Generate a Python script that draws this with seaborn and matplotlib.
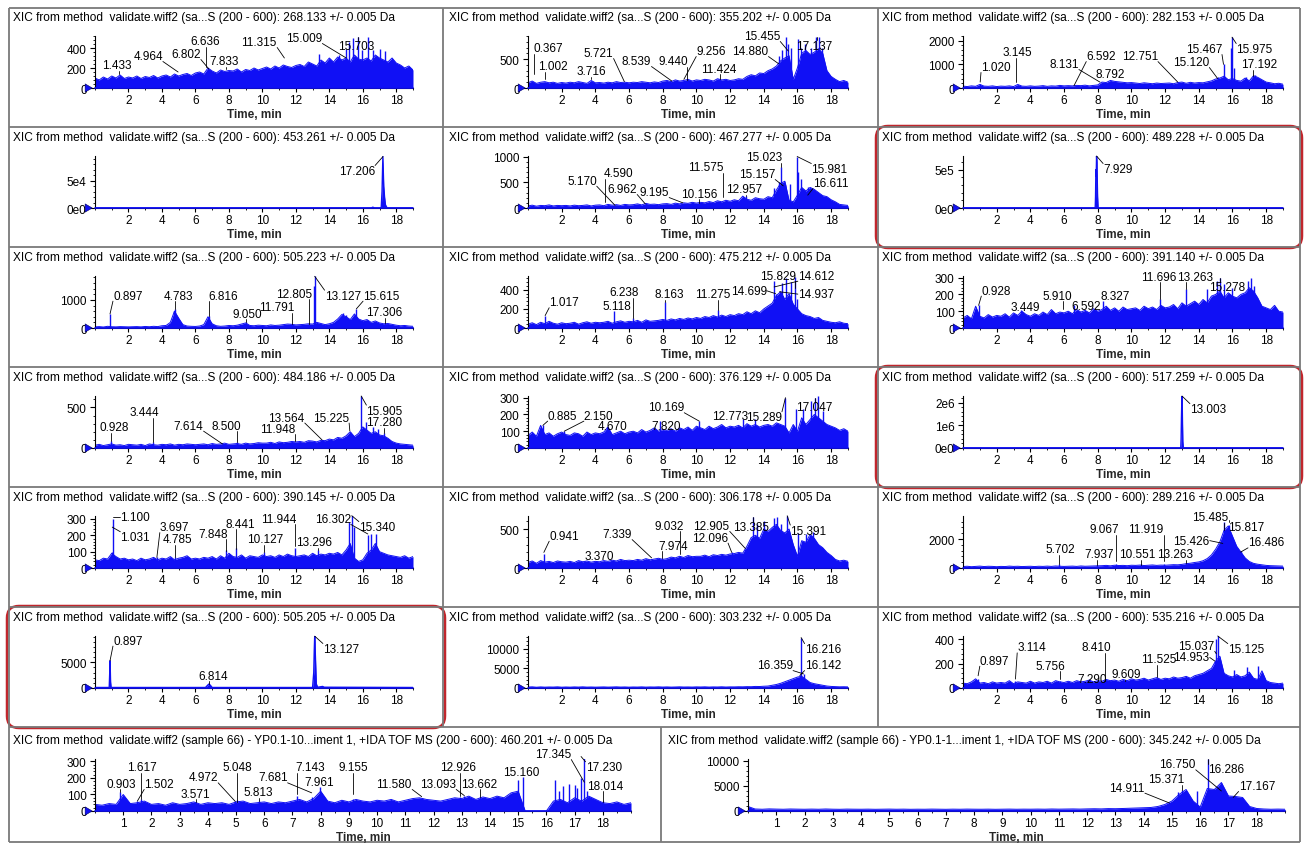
import numpy as np
import matplotlib
matplotlib.use("Agg")
import matplotlib.pyplot as plt
import seaborn as sns
from matplotlib.patches import FancyBboxPatch
from matplotlib.ticker import FixedLocator, MultipleLocator, FuncFormatter

sns.set_theme(style="ticks")
plt.rcParams["font.family"] = ["Liberation Sans", "DejaVu Sans"]
plt.rcParams.update({
    "font.size": 8.5,
    "text.color": "black",
    "axes.edgecolor": "black",
    "axes.linewidth": 0.8,
    "xtick.color": "black",
    "ytick.color": "black",
    "xtick.labelsize": 8.5,
    "ytick.labelsize": 8.5,
    "xtick.major.size": 3,
    "xtick.minor.size": 1.5,
    "ytick.major.size": 3.5,
    "ytick.minor.size": 1.5,
    "xtick.major.width": 0.8,
    "ytick.major.width": 0.8,
    "xtick.minor.width": 0.6,
    "ytick.minor.width": 0.6,
    "xtick.major.pad": 1.5,
    "ytick.major.pad": 2.5,
})

BLUE = "#1010f5"
W, H = 1304, 845

# noise envelopes are sampled every 0.25 min from 0 to 19 min
T_GRID = np.arange(0, 19.001, 0.25)

# ---------------- data ----------------
# 1) 268.133
p1_hi = [100, 80, 110, 90, 120, 100, 130, 95, 110,
         100, 120, 95, 115, 105, 125, 100, 120,
         130, 110, 140, 120, 135, 145, 125, 150,
         160, 140, 200, 170, 150, 180, 165, 175,
         170, 190, 160, 185, 175, 200, 180, 195,
         210, 190, 220, 200, 230, 215, 205, 225,
         235, 215, 260, 240, 220, 280, 250, 300,
         260, 310, 280, 300, 260, 330, 290, 280,
         300, 270, 330, 300, 280, 260, 300, 250,
         230, 200, 220, 180]
p1_spk_t = [13.4, 14.6, 15.0, 15.15, 15.4, 15.7, 15.95, 16.3, 16.6, 16.85, 17.05, 17.3]
p1_spk_y = [340, 330, 390, 460, 500, 510, 380, 510, 380, 300, 390, 370]
p1_lab_t = [1.433, 4.964, 6.636, 6.802, 7.833, 11.315, 15.009, 15.703]
p1_lab_y = [140, 160, 210, 190, 190, 300, 300, 510]
p1_lab_pos = [(1.3, 230), (3.17, 320), (6.57, 470), (5.44, 340), (7.7, 270),
              (9.8, 460), (12.5, 500), (15.6, 420)]

# 2) 355.202
p2_hi = [90, 120, 80, 100, 110, 90, 100, 80, 95,
         85, 100, 90, 110, 95, 80, 130, 90,
         95, 85, 100, 90, 110, 95, 100, 90,
         100, 95, 110, 100, 90, 105, 95, 120,
         130, 110, 140, 120, 130, 150, 120, 140,
         130, 150, 140, 120, 160, 140, 150, 130,
         140, 160, 150, 200, 230, 210, 260, 250,
         300, 330, 380, 470, 520, 560, 150, 350,
         600, 650, 580, 620, 680, 600, 300, 200,
         150, 110, 130, 100]
p2_spk_t = [14.9, 15.1, 15.3, 15.45, 15.6, 16.05, 16.2, 16.45, 16.8, 17.1, 17.3, 17.45]
p2_spk_y = [560, 650, 880, 760, 700, 850, 700, 760, 700, 880, 890, 700]
p2_lab_t = [0.367, 1.002, 3.716, 5.721, 8.539, 9.440, 9.256, 11.424, 14.880, 15.455, 17.137]
p2_lab_y = [240, 160, 150, 110, 120, 140, 150, 160, 420, 640, 880]
p2_lab_pos = [(1.19, 692), (1.48, 380), (3.75, 294), (4.2, 605), (6.45, 467), (8.6, 467),
              (10.87, 640), (11.3, 329), (13.2, 640), (13.9, 900), (17.0, 727)]

# 3) 282.153
p3_hi = [80, 60, 90, 70, 150, 80, 70, 90, 60,
         80, 70, 90, 60, 150, 80, 70, 90,
         70, 80, 100, 70, 90, 80, 110, 90,
         100, 90, 110, 100, 120, 90, 110, 130,
         250, 230, 320, 280, 260, 240, 220, 230,
         210, 190, 220, 200, 180, 210, 190, 200,
         210, 180, 230, 250, 200, 240, 210, 230,
         220, 260, 300, 380, 420, 500, 350, 400,
         320, 290, 420, 300, 520, 450, 350, 250,
         220, 180, 200, 160]
p3_spk_t = [1.02, 15.12, 15.47, 15.9, 15.98, 16.1, 16.8, 17.19, 17.35]
p3_spk_y = [180, 450, 1000, 1700, 2150, 850, 450, 520, 560]
p3_lab_t = [1.020, 3.145, 8.131, 6.592, 8.792, 12.751, 15.120, 15.467, 15.975, 17.192]
p3_lab_y = [250, 250, 250, 100, 380, 250, 400, 1000, 2150, 520]
p3_lab_pos = [(1.95, 890), (3.2, 1520), (6.0, 1015), (8.2, 1350), (8.75, 590), (10.5, 1350),
              (13.55, 1100), (14.3, 1650), (17.3, 1650), (17.6, 1015)]

# 4) 453.261
p4_t = [0, 16.5, 16.6, 16.7, 17.1, 17.15, 17.2, 17.25, 17.3, 17.35, 17.45, 19]
p4_y = [0, 0, 1500, 0, 0, 30000, 94000, 40000, 20000, 6000, 0, 0]
p4_lab_t = [17.206]
p4_lab_y = [94000]
p4_lab_pos = [(15.65, 67600)]

# 5) 467.277
p5_hi = [40, 55, 35, 50, 45, 60, 40, 50, 45,
         50, 40, 55, 45, 50, 60, 40, 55,
         60, 45, 70, 55, 65, 50, 70, 60,
         65, 80, 60, 90, 70, 75, 65, 80,
         85, 70, 95, 80, 100, 90, 110, 95,
         110, 100, 125, 105, 140, 120, 150, 130,
         160, 140, 230, 170, 150, 200, 180, 170,
         220, 200, 350, 480, 520, 150, 120, 250,
         400, 330, 400, 360, 300, 240, 220, 160,
         120, 70, 60, 50]
p5_spk_t = [12.96, 14.6, 14.9, 15.02, 15.16, 15.25, 15.55, 15.98, 16.05, 16.2, 16.61]
p5_spk_y = [240, 380, 500, 790, 430, 470, 470, 1000, 700, 560, 400]
p5_lab_t = [5.170, 4.590, 6.962, 9.195, 10.156, 11.575, 12.957, 15.023, 15.157, 15.981, 16.611]
p5_lab_y = [50, 120, 80, 100, 100, 215, 240, 790, 430, 1000, 250]
p5_lab_pos = [(3.2, 530), (5.4, 673), (5.6, 369), (7.5, 310), (10.15, 272), (10.55, 795),
              (12.85, 369), (14.0, 990), (13.6, 660), (17.9, 757), (18.0, 485)]

# 6) 489.228
p6_t = [0, 7.85, 7.87, 7.89, 7.91, 7.93, 7.95, 7.97, 7.99, 8.02, 19]
p6_y = [0, 0, 150000, 500000, 420000, 680000, 600000, 380000, 150000, 0, 0]
p6_lab_t = [7.929]
p6_lab_y = [680000]
p6_lab_pos = [(9.2, 510000)]

# 7) 505.223
p7_hi = [40, 50, 35, 60, 45, 40, 50, 45, 40,
         45, 50, 40, 55, 45, 60, 50, 80,
         90, 200, 600, 350, 120, 70, 60, 55,
         70, 120, 400, 150, 80, 60, 70, 90,
         80, 100, 140, 180, 90, 80, 100, 90,
         80, 110, 90, 100, 120, 140, 130, 110,
         120, 130, 150, 140, 200, 160, 120, 150,
         200, 320, 480, 400, 300, 500, 320, 260,
         300, 200, 250, 180, 150, 160, 130, 100,
         80, 90, 70, 60]
p7_spk_t = [0.897, 4.72, 4.783, 6.816, 9.05, 11.791, 13.08, 13.127, 14.8, 15.0, 15.615, 17.306]
p7_spk_y = [500, 600, 680, 440, 200, 150, 1500, 1840, 520, 480, 680, 170]
p7_lab_t = [0.897, 4.783, 6.816, 9.050, 11.791, 12.805, 13.127, 15.615, 17.306]
p7_lab_y = [500, 680, 440, 200, 150, 150, 1840, 680, 170]
p7_lab_pos = [(1.96, 1150), (5.0, 1150), (7.66, 1150), (9.13, 500), (10.85, 735),
              (11.9, 1210), (14.8, 1150), (17.1, 1150), (17.3, 560)]

# 8) 475.212
p8_hi = [40, 55, 35, 60, 45, 70, 50, 40, 55,
         45, 50, 60, 40, 55, 65, 50, 60,
         55, 60, 70, 50, 65, 75, 60, 70,
         65, 80, 60, 85, 70, 75, 80, 90,
         80, 95, 85, 100, 90, 105, 95, 110,
         100, 120, 110, 130, 115, 135, 120, 140,
         130, 150, 140, 170, 150, 180, 160, 200,
         230, 260, 340, 380, 300, 360, 250, 200,
         150, 130, 120, 100, 110, 80, 70, 60,
         55, 65, 50, 45]
p8_spk_t = [1.017, 5.118, 6.238, 8.163, 11.275, 14.2, 14.612, 14.699, 14.937, 15.1, 15.3, 15.6, 15.829, 16.0]
p8_spk_y = [130, 180, 100, 270, 190, 200, 495, 360, 380, 470, 520, 480, 530, 300]
p8_lab_t = [1.017, 6.238, 5.118, 8.163, 11.275, 15.829, 14.612, 14.699, 14.937]
p8_lab_y = [130, 100, 180, 270, 190, 420, 430, 360, 380]
p8_lab_pos = [(2.14, 270), (5.7, 375), (5.3, 235), (8.4, 355), (10.95, 355),
              (14.85, 548), (17.1, 548), (13.1, 390), (17.1, 355)]

# 9) 391.140
p9_hi = [60, 75, 55, 130, 70, 60, 80, 65, 75,
         70, 85, 65, 90, 75, 100, 80, 70,
         85, 75, 95, 80, 110, 85, 95, 90,
         100, 85, 110, 95, 105, 90, 115, 100,
         110, 130, 105, 120, 100, 125, 110, 115,
         120, 105, 130, 115, 125, 110, 135, 120,
         125, 140, 115, 150, 130, 145, 160, 140,
         170, 150, 190, 200, 220, 180, 210, 190,
         180, 200, 210, 240, 220, 180, 130, 120,
         110, 135, 100, 95]
p9_spk_t = [0.928, 3.45, 6.592, 8.327, 11.696, 13.263, 14.5, 15.1, 15.278, 15.5, 16.0, 16.9, 17.1, 17.3]
p9_spk_y = [135, 110, 140, 160, 175, 230, 230, 280, 300, 260, 240, 280, 300, 250]
p9_lab_t = [0.928, 3.449, 5.910, 6.592, 8.327, 11.696, 13.263, 15.278]
p9_lab_y = [135, 110, 115, 140, 160, 175, 230, 300]
p9_lab_pos = [(1.97, 223), (3.7, 123), (5.58, 193), (7.3, 133), (9.03, 193),
              (11.6, 306), (13.8, 306), (15.7, 243)]

# 10) 484.186
p10_hi = [35, 45, 30, 40, 50, 35, 40, 30, 45,
          40, 35, 45, 30, 50, 40, 35, 45,
          40, 50, 35, 45, 40, 50, 45, 40,
          45, 50, 40, 55, 45, 50, 60, 45,
          50, 55, 45, 60, 50, 55, 65, 60,
          60, 70, 55, 75, 65, 70, 80, 75,
          80, 70, 90, 85, 75, 95, 90, 110,
          100, 130, 120, 150, 200, 140, 180, 260,
          220, 180, 200, 160, 150, 120, 80, 60,
          50, 45, 40, 35]
p10_spk_t = [0.928, 3.444, 8.5, 13.564, 15.225, 15.905, 16.2, 16.6, 16.9, 17.28]
p10_spk_y = [90, 70, 70, 100, 200, 640, 320, 260, 240, 190]
p10_lab_t = [3.444, 0.928, 7.614, 8.500, 11.948, 13.564, 15.225, 15.905, 17.280]
p10_lab_y = [70, 90, 50, 70, 90, 100, 210, 640, 190]
p10_lab_pos = [(2.95, 440), (1.13, 255), (5.6, 275), (7.85, 275), (10.9, 235),
               (11.45, 375), (14.1, 375), (17.3, 460), (17.3, 315)]

# 11) 376.129
p11_hi = [75, 95, 70, 135, 80, 90, 70, 85, 95,
          80, 75, 90, 85, 70, 95, 80, 90,
          85, 95, 125, 80, 90, 100, 85, 95,
          100, 90, 110, 95, 105, 120, 100, 110,
          105, 115, 100, 120, 110, 125, 105, 130,
          120, 110, 130, 115, 125, 140, 120, 130,
          125, 135, 120, 145, 130, 140, 125, 135,
          140, 130, 150, 140, 130, 90, 140, 100,
          180, 140, 170, 200, 180, 160, 140, 130,
          120, 105, 115, 100]
p11_spk_t = [0.885, 2.15, 4.67, 7.82, 10.169, 12.773, 13.5, 15.289, 15.9, 16.3, 16.8, 17.047, 17.2, 17.5]
p11_spk_y = [135, 100, 125, 160, 160, 175, 170, 300, 230, 230, 280, 300, 310, 220]
p11_lab_t = [0.885, 2.150, 4.670, 10.169, 7.820, 12.773, 15.289, 17.047]
p11_lab_y = [135, 100, 125, 160, 160, 175, 300, 300]
p11_lab_pos = [(2.05, 193), (4.2, 193), (5.05, 133), (8.2, 243), (8.2, 133),
               (12.0, 193), (14.0, 183), (17.0, 243)]

# 12) 517.259
p12_t = [0, 12.93, 12.95, 12.97, 12.99, 13.01, 13.03, 13.05, 13.08, 19]
p12_y = [0, 0, 400000, 1300000, 2000000, 2300000, 1200000, 300000, 0, 0]
p12_lab_t = [13.003]
p12_lab_y = [2300000]
p12_lab_pos = [(14.55, 1720000)]

# 13) 390.145
p13_hi = [50, 45, 60, 55, 90, 70, 55, 60, 50,
          55, 45, 60, 50, 55, 65, 50, 60,
          55, 70, 50, 60, 65, 75, 55, 60,
          55, 65, 60, 70, 55, 75, 60, 90,
          70, 65, 80, 60, 75, 70, 65, 80,
          70, 75, 65, 80, 70, 85, 75, 70,
          75, 80, 70, 90, 75, 85, 80, 90,
          85, 95, 80, 110, 150, 60, 40, 50,
          90, 110, 150, 100, 90, 80, 75, 70,
          65, 75, 60, 70]
p13_spk_t = [1.031, 1.1, 3.697, 4.785, 7.848, 8.441, 10.127, 11.944, 13.296, 15.15, 15.34, 15.5, 16.302, 16.5, 16.8]
p13_spk_y = [100, 300, 70, 70, 110, 120, 100, 120, 110, 280, 330, 250, 200, 210, 210]
p13_lab_t = [1.100, 1.031, 3.697, 4.785, 7.848, 8.441, 10.127, 11.944, 13.296, 16.302, 15.340]
p13_lab_y = [310, 250, 65, 70, 106, 116, 100, 136, 110, 208, 320]
p13_lab_pos = [(2.4, 310), (2.4, 188), (4.76, 250), (4.9, 177), (7.07, 208), (8.7, 270),
               (10.16, 177), (11.0, 300), (13.1, 157), (14.2, 300), (16.85, 250)]

# 14) 306.178
p14_hi = [70, 90, 60, 95, 75, 85, 70, 90, 80,
          75, 85, 70, 95, 80, 90, 75, 85,
          80, 95, 85, 100, 90, 110, 95, 100,
          95, 110, 100, 120, 105, 115, 125, 110,
          120, 140, 130, 150, 135, 160, 145, 150,
          150, 165, 145, 170, 160, 175, 165, 180,
          185, 200, 190, 280, 390, 420, 380, 500,
          470, 520, 560, 480, 450, 500, 300, 150,
          350, 330, 430, 380, 300, 260, 200, 160,
          110, 90, 100, 85]
p14_spk_t = [0.941, 3.37, 7.339, 7.974, 9.032, 12.096, 12.905, 13.385, 13.6, 14.0, 14.6, 14.8, 15.0, 15.391, 16.05, 16.5, 16.9]
p14_spk_y = [180, 90, 120, 130, 160, 200, 250, 650, 560, 600, 640, 660, 560, 670, 450, 440, 460]
p14_lab_t = [0.941, 3.370, 7.339, 7.974, 9.032, 12.905, 12.096, 13.385, 15.391]
p14_lab_y = [200, 90, 130, 130, 180, 250, 200, 650, 670]
p14_lab_pos = [(2.14, 414), (4.24, 158), (5.3, 435), (8.6, 286), (8.4, 540),
               (10.9, 540), (10.8, 390), (13.25, 520), (16.65, 480)]

# 15) 289.216
p15_hi = [100, 120, 90, 110, 130, 100, 120, 110, 90,
          110, 100, 130, 110, 120, 100, 110, 120,
          100, 120, 110, 130, 110, 140, 120, 110,
          120, 130, 110, 140, 120, 130, 140, 150,
          160, 180, 150, 190, 170, 180, 160, 190,
          180, 200, 170, 190, 210, 180, 200, 190,
          210, 230, 220, 250, 300, 330, 380, 420,
          500, 650, 900, 1300, 1800, 2600, 2900, 2200,
          1500, 1100, 700, 450, 320, 260, 220, 180,
          160, 150, 140, 130]
p15_spk_t = [5.702, 7.937, 9.067, 10.551, 11.919, 13.263, 15.426, 15.485, 15.817, 16.486]
p15_spk_y = [250, 200, 250, 250, 250, 350, 1700, 3150, 3000, 1200]
p15_lab_t = [5.702, 9.067, 11.919, 7.937, 10.551, 13.263, 15.426, 15.485, 15.817, 16.486]
p15_lab_y = [275, 500, 500, 200, 200, 350, 1700, 2600, 3300, 1100]
p15_lab_pos = [(5.77, 1310), (8.4, 2690), (10.86, 2690), (8.1, 966), (10.36, 966),
               (12.6, 966), (13.57, 1890), (14.66, 3500), (16.83, 2800), (18.0, 1770)]

# 16) 505.205
p16_t = [0, 0.85, 0.88, 0.9, 0.93, 0.96, 6.6, 6.75, 6.814, 6.9, 7.0,
         13.0, 13.07, 13.1, 13.127, 13.17, 13.22, 13.3, 13.6, 13.7, 19]
p16_y = [100, 100, 3000, 5300, 1200, 100, 100, 600, 780, 500, 100,
         100, 3000, 7300, 10100, 6000, 800, 150, 300, 150, 100]
p16_lab_t = [0.897, 6.814, 13.127]
p16_lab_y = [5300, 780, 10100]
p16_lab_pos = [(1.96, 9230), (7.07, 2400), (14.7, 7600)]

# 17) 303.232
p17_hi = [250, 300, 200, 280, 220, 260, 240, 300, 210,
          260, 220, 280, 240, 300, 230, 260, 220,
          250, 280, 230, 260, 300, 240, 270, 220,
          260, 240, 290, 230, 270, 250, 300, 240,
          280, 230, 260, 300, 250, 270, 240, 290,
          260, 300, 240, 280, 260, 310, 250, 290,
          280, 320, 300, 350, 330, 400, 380, 450,
          500, 700, 900, 1200, 1600, 2000, 2400, 2800,
          3000, 2200, 1400, 1100, 900, 700, 500, 400,
          350, 300, 320, 280]
p17_spk_t = [16.142, 16.216, 16.359]
p17_spk_y = [3200, 12900, 3600]
p17_lab_t = [16.216, 16.359, 16.142]
p17_lab_y = [12900, 3600, 3200]
p17_lab_pos = [(17.5, 9950), (14.66, 5860), (17.5, 5860)]

# 18) 535.216
p18_hi = [40, 35, 50, 75, 40, 45, 35, 50, 40,
          45, 40, 60, 35, 50, 45, 40, 55,
          40, 50, 45, 55, 40, 60, 50, 45,
          55, 45, 60, 50, 55, 65, 50, 60,
          55, 70, 60, 65, 55, 70, 60, 75,
          65, 70, 80, 65, 75, 85, 70, 80,
          75, 90, 80, 85, 95, 80, 100, 110,
          120, 140, 160, 220, 260, 120, 100, 90,
          110, 90, 100, 130, 80, 70, 140, 60,
          45, 40, 35, 40]
p18_spk_t = [0.897, 3.114, 5.756, 8.41, 11.525, 14.953, 15.037, 15.125, 16.1, 16.85, 17.5]
p18_spk_y = [75, 60, 60, 70, 80, 220, 400, 425, 150, 175, 180]
p18_lab_t = [0.897, 3.114, 5.756, 8.410, 7.290, 9.609, 11.525, 15.037, 14.953, 15.125]
p18_lab_y = [100, 73, 73, 60, 45, 60, 87, 280, 220, 425]
p18_lab_pos = [(1.88, 223), (4.1, 332), (5.18, 182), (7.9, 332), (7.65, 73), (9.72, 114),
               (11.6, 237), (13.87, 345), (13.57, 250), (16.8, 318)]

# 19) 460.201
p19_hi = [40, 35, 45, 40, 100, 45, 50, 60, 40,
          45, 35, 50, 40, 45, 55, 40, 50,
          45, 50, 40, 55, 60, 45, 50, 55,
          45, 55, 50, 60, 70, 55, 75, 120,
          60, 50, 65, 55, 70, 60, 55, 65,
          60, 70, 55, 65, 75, 80, 70, 65,
          60, 70, 80, 75, 90, 70, 85, 75,
          90, 80, 110, 120, 0, 0, 0, 0,
          60, 70, 50, 80, 60, 90, 70, 50,
          45, 55, 40, 50]
p19_spk_t = [0.903, 1.502, 1.617, 3.571, 4.972, 5.048, 5.813, 7.143, 7.681, 7.961, 9.155, 11.58,
             12.926, 13.093, 13.662, 15.0, 15.16, 16.3, 16.45, 16.6, 16.8, 17.0, 17.1, 17.23,
             17.345, 17.45, 18.014]
p19_spk_y = [113, 60, 70, 55, 60, 65, 60, 90, 85, 145, 70, 80,
             85, 90, 85, 190, 205, 185, 120, 150, 165, 160, 140, 200,
             330, 120, 60]
p19_lab_t = [1.617, 0.903, 1.502, 3.571, 4.972, 5.048, 5.813, 7.681, 7.143, 7.961, 9.155,
             11.580, 12.926, 13.093, 13.662, 15.160, 17.345, 17.230, 18.014]
p19_lab_y = [73, 113, 60, 55, 58, 52, 60, 110, 100, 145, 100, 87, 93, 93, 85, 205, 174, 330, 52]
p19_lab_pos = [(1.67, 265), (0.93, 164), (2.27, 164), (3.54, 103), (3.84, 204), (5.03, 265),
               (5.78, 113), (6.3, 204), (7.62, 265), (7.95, 174), (9.14, 265), (10.6, 164),
               (12.88, 265), (12.16, 164), (13.6, 164), (15.1, 234), (16.24, 345), (18.03, 265),
               (18.1, 153)]

# 20) 345.242
p20_hi = [900, 400, 350, 420, 380, 350, 400, 370, 350,
          380, 350, 400, 360, 340, 380, 360, 350,
          370, 340, 360, 380, 350, 370, 340, 360,
          350, 380, 360, 340, 370, 350, 380, 360,
          350, 370, 340, 360, 380, 350, 370, 360,
          380, 360, 400, 370, 390, 410, 380, 420,
          450, 420, 480, 460, 500, 550, 600, 650,
          700, 900, 1300, 2000, 3300, 4300, 2000, 800,
          4500, 4300, 5700, 3000, 2900, 2700, 900, 500,
          400, 350, 380, 350]
p20_spk_t = [14.911, 15.2, 15.371, 15.9, 16.286, 16.5, 16.75, 17.167]
p20_spk_y = [1700, 3800, 4300, 4000, 10400, 4500, 5700, 2700]
p20_lab_t = [14.911, 15.371, 16.750, 16.286, 17.167]
p20_lab_y = [1600, 4300, 4000, 10400, 2700]
p20_lab_pos = [(13.4, 4670), (14.8, 6340), (15.2, 9340), (16.9, 8340), (18.0, 5000)]

MZ = ["268.133", "355.202", "282.153", "453.261", "467.277", "489.228",
      "505.223", "475.212", "391.140", "484.186", "376.129", "517.259",
      "390.145", "306.178", "289.216", "505.205", "303.232", "535.216",
      "460.201", "345.242"]
YMAX = [520, 900, 2200, 95000, 1010, 680000, 1850, 545, 310, 640, 310, 2300000,
        318, 667, 3590, 10130, 13300, 425, 315, 10400]
YTICKS = [[0, 200, 400], [0, 500], [0, 1000, 2000], [0, 50000], [0, 500, 1000], [0, 500000],
          [0, 1000], [0, 200, 400], [0, 100, 200, 300], [0, 500], [0, 100, 200, 300],
          [0, 1000000, 2000000], [0, 100, 200, 300], [0, 500], [0, 2000], [0, 5000],
          [0, 5000, 10000], [0, 200, 400], [0, 100, 200, 300], [0, 5000, 10000]]
SCI = {3, 5, 11}

g = globals()
PANELS = []
for i in range(20):
    n = i + 1
    p = dict(mz=MZ[i], ymax=YMAX[i], yticks=YTICKS[i], sci=i in SCI,
             lab_t=g[f"p{n}_lab_t"], lab_y=g[f"p{n}_lab_y"], lab_pos=g[f"p{n}_lab_pos"])
    if f"p{n}_hi" in g:
        p.update(hi=g[f"p{n}_hi"], spk_t=g[f"p{n}_spk_t"], spk_y=g[f"p{n}_spk_y"])
    else:
        p.update(t=g[f"p{n}_t"], y=g[f"p{n}_y"])
    PANELS.append(p)

TITLE_SHORT = "XIC from method  validate.wiff2 (sa...S (200 - 600): {} +/- 0.005 Da"
TITLE_LONG = ["XIC from method  validate.wiff2 (sample 66) - YP0.1-10...iment 1, +IDA TOF MS (200 - 600): {} +/- 0.005 Da",
              "XIC from method  validate.wiff2 (sample 66) - YP0.1-1...iment 1, +IDA TOF MS (200 - 600): {} +/- 0.005 Da"]


def sci_fmt(v, pos):
    if v == 0:
        return "0e0"
    e = int(np.floor(np.log10(v)))
    return f"{v / 10 ** e:.0f}e{e}"


def draw_panel(ax, p, px_per_min, h_px, bottom_row):
    ymax = p["ymax"]
    if "hi" in p:
        t = T_GRID[:len(p["hi"])]
        ax.fill_between(t, 0, p["hi"], color=BLUE, lw=0)
        sns.lineplot(x=t, y=p["hi"], ax=ax, color=BLUE, lw=0.7, estimator=None, sort=False)
        ax.vlines(p["spk_t"], 0, p["spk_y"], color=BLUE, lw=1.0)
    else:
        ax.fill_between(p["t"], 0, p["y"], color=BLUE, lw=0)
        sns.lineplot(x=p["t"], y=p["y"], ax=ax, color=BLUE, lw=1.0, estimator=None, sort=False)
    ax.plot([0, 19], [0, 0], color=BLUE, lw=1.2, clip_on=False, zorder=3)

    # peak labels with leader lines
    hh = 5.5 / h_px * ymax
    for lt, ly, (tx, ty) in zip(p["lab_t"], p["lab_y"], p["lab_pos"]):
        s = f"{lt:.3f}"
        hw = ((len(s) - 1) * 6.6 + 3.3) / 2 / px_per_min
        ax.text(tx, ty, s, ha="center", va="center", fontsize=8.5, clip_on=False, zorder=6)
        left, right = tx - hw, tx + hw
        if ly < ty - hh:
            xs, ys = min(max(lt, left), right), ty - hh
        elif ly > ty + hh:
            xs, ys = min(max(lt, left), right), ty + hh
        elif lt < left:
            xs, ys = left, ty
        elif lt > right:
            xs, ys = right, ty
        else:
            continue
        if abs(ys - ly) < 0.02 * ymax and abs(xs - lt) < 0.1:
            continue
        ax.plot([xs, lt], [ys, ly], color="black", lw=0.6, clip_on=False, zorder=5)

    # origin arrow
    ax.annotate("", xy=(0, 0), xycoords="axes fraction", xytext=(-9, 0), textcoords="offset points",
                arrowprops=dict(arrowstyle="simple,head_length=0.6,head_width=0.7,tail_width=0.35",
                                fc=BLUE, ec="#000060", lw=0.4), annotation_clip=False, zorder=7)

    ax.set_xlim(0, 19)
    ax.set_ylim(0, ymax)
    ax.yaxis.set_major_locator(FixedLocator(p["yticks"]))
    ax.yaxis.set_minor_locator(MultipleLocator(p["yticks"][1] / 5))
    if p["sci"]:
        ax.yaxis.set_major_formatter(FuncFormatter(sci_fmt))
    else:
        ax.yaxis.set_major_formatter(FuncFormatter(lambda v, pos: f"{v:.0f}"))
    if bottom_row:
        ax.xaxis.set_major_locator(FixedLocator(list(range(1, 19))))
        ax.xaxis.set_minor_locator(MultipleLocator(0.5))
    else:
        ax.xaxis.set_major_locator(FixedLocator(list(range(2, 19, 2))))
        ax.xaxis.set_minor_locator(MultipleLocator(1))
    ax.set_xlabel("Time, min", fontweight="bold", fontsize=8.5, labelpad=1)
    ax.set_ylabel("")
    ax.set_facecolor("none")
    sns.despine(ax=ax)


fig = plt.figure(figsize=(W / 100, H / 100), dpi=100)

# background layer in pixel coordinates: frames, titles, highlight boxes
bg = fig.add_axes([0, 0, 1, 1])
bg.set_xlim(0, W)
bg.set_ylim(H, 0)
bg.axis("off")
FRAME = "#7a7a7a"
bg.hlines([9, 128, 248, 368, 488, 608, 728, 843], 9, 1300, color=FRAME, lw=1.3)
bg.vlines([9, 1300], 9, 843, color=FRAME, lw=1.3)
bg.vlines([443, 878], 9, 728, color=FRAME, lw=1.3)
bg.vlines([661], 728, 843, color=FRAME, lw=1.3)

COL_X = [(95, 413), (528, 848), (963, 1283)]
TITLE_X = [13, 449, 882]
RED_BOX = {5: (876, 127, 426, 122), 11: (876, 367, 426, 122), 15: (7, 607, 438, 122)}

for i, p in enumerate(PANELS):
    if i < 18:
        r, c = divmod(i, 3)
        left, right = COL_X[c]
        top, bottom = 37 + 120 * r, 89 + 120 * r
        title = TITLE_SHORT.format(p["mz"])
        tx, ty = TITLE_X[c], 18 + 120 * r
        bottom_row = False
    else:
        k = i - 18
        left, right = [(95, 631), (748, 1285)][k]
        top, bottom = 760, 812
        title = TITLE_LONG[k].format(p["mz"])
        tx, ty = [13, 668][k], 741
        bottom_row = True
    bg.text(tx, ty, title, ha="left", va="center", fontsize=8.6)
    ax = fig.add_axes([left / W, 1 - bottom / H, (right - left) / W, (bottom - top) / H])
    draw_panel(ax, p, (right - left) / 19, bottom - top, bottom_row)

for i, (x0, y0, w, h) in RED_BOX.items():
    bg.add_patch(FancyBboxPatch((x0, y0), w, h, boxstyle="round,pad=0,rounding_size=12",
                                fc="none", ec="#c0262c", lw=1.8))

fig.savefig("out.png", dpi=100)
